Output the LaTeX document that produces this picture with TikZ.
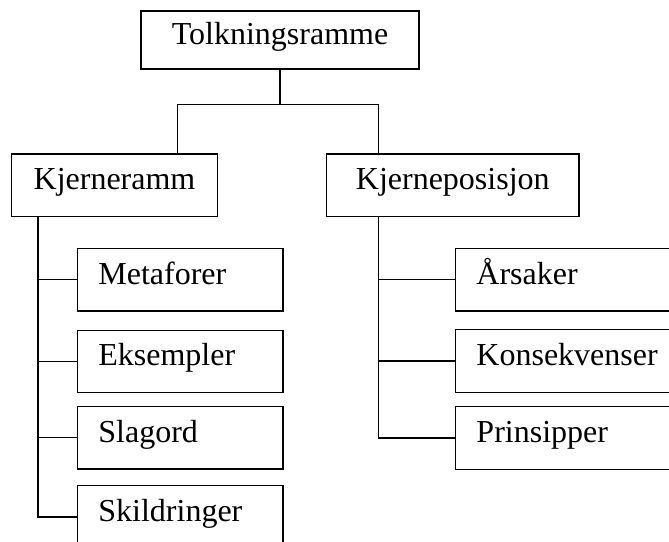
\documentclass[tikz,border=0pt]{standalone}
\usepackage{fontspec}
\setmainfont{Liberation Serif}

\begin{document}
\begin{tikzpicture}[x=0.75pt,y=-0.75pt,line width=1pt,
	font=\fontsize{24}{28}\selectfont,
	main node/.style={draw,text height=0.91em,text depth=0.25em,minimum height=46.8pt},
	leaf node/.style={main node,anchor=west,align=left,inner xsep=15.75pt,text width=122.7pt}]
	
	\useasboundingbox (0,0) rectangle (669,542);
	\clip (0,0) rectangle (669,542);
	
	\node[main node,minimum width=208.5pt,minimum height=43.5pt] (T) at (280,40) {Tolkningsramme};
	\node[main node,minimum width=154.2pt] (R) at (114.5,185.2) {Kjerneramm};
	\node[main node,minimum width=189.2pt] (P) at (452.8,185.2) {Kjerneposisjon};
	
	\node[leaf node] (r1) at (76.7,279.7) {Metaforer};
	\node[leaf node] (r2) at (76.7,361.5) {Eksempler};
	\node[leaf node] (r3) at (76.7,437.8) {Slagord};
	\node[leaf node] (r4) at (76.7,517) {Skildringer};
	\node[leaf node,text width=150pt] (p1) at (454.8,279.7) {Årsaker};
	\node[leaf node,text width=150pt] (p2) at (454.8,361) {Konsekvenser};
	\node[leaf node,text width=150pt] (p3) at (454.8,438) {Prinsipper};
	
	\coordinate (forkL) at (177.3,104.3);
	\coordinate (forkR) at (378.3,104.3);
	\coordinate (spine) at (37.9,0);
	\draw (T.south) -- (T.south |- forkL);
	\draw (R.north -| forkL) -- (forkL) -- (forkR) -- (P.north -| forkR);
	\draw (R.south -| spine) |- (r4.west);
	\draw (P.south -| forkR) |- (p3.west);
	\foreach \n in {r1,r2,r3} \draw (spine |- \n.west) -- (\n.west);
	\foreach \n in {p1,p2} \draw (forkR |- \n.west) -- (\n.west);
\end{tikzpicture}
\end{document}
